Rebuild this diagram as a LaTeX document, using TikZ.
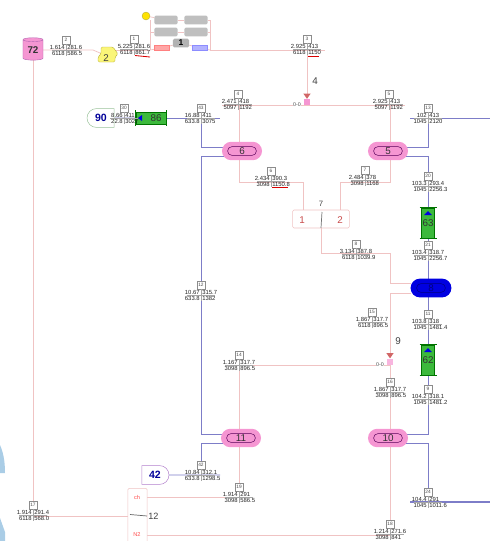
\documentclass[tikz,border=0pt]{standalone}
\usepackage{fontspec}
\setmainfont{Liberation Sans}
\usetikzlibrary{shapes,arrows.meta,positioning,calc,backgrounds}
\definecolor{qpink}{RGB}{245,150,210}
\definecolor{qline}{RGB}{240,195,195}
\definecolor{qblue}{RGB}{125,125,200}
\definecolor{qgreen}{RGB}{60,185,60}
\definecolor{qyellow}{RGB}{250,245,120}
\definecolor{qdeep}{RGB}{0,0,225}
\definecolor{qpatch}{RGB}{170,205,230}
\newcommand{\streamtag}[7]{%
  \node[tagbox] (tag#1) at (#2,#3-10) {#1};
  \node[tagval, anchor=east] (tag#1a) at (#2-1,#3-3) {#4};
  \node[tagval, anchor=west] (tag#1b) at (#2+1,#3-3) {#5};
  \node[tagval, anchor=east] (tag#1c) at (#2-1,#3+3) {#6};
  \node[tagval, anchor=west] (tag#1d) at (#2+1,#3+3) {#7};
  \draw[tagrule] (#2-14,#3) -- (#2+14,#3);
  \draw[tagrule] (tag#1) -- (#2,#3+6);
}
\begin{document}
\begin{tikzpicture}[
    x=0.025cm, y=-0.025cm,
    pinkline/.style={qline, line width=0.55pt},
    blueline/.style={qblue, line width=0.6pt},
    tagbox/.style={draw=black!45, line width=0.2pt, fill=white, inner sep=0.4pt,
                   minimum size=0.19cm, font=\fontsize{3.4}{4}\selectfont, text=black!70},
    tagval/.style={inner sep=0pt, font=\fontsize{4.2}{4}\selectfont, text=black!85},
    tagrule/.style={black!35, line width=0.2pt},
    vessel/.style={rounded rectangle, fill=qpink, minimum width=1cm, minimum height=0.46cm, inner sep=0pt},
    vesselin/.style={rounded rectangle, draw=violet!70!black, line width=0.35pt, minimum width=0.72cm,
                     minimum height=0.22cm, inner sep=0pt, font=\fontsize{7}{8}\selectfont, text=black!80},
    cooler/.style={fill=qgreen, draw=green!45!black, line width=0.3pt, inner sep=0pt,
                   font=\fontsize{7}{8}\selectfont, text=black!80},
    coolcap/.style={green!45!black, line width=0.8pt, shorten <=-1.2pt, shorten >=-1.2pt},
    tray/.style={rounded corners=1pt, fill=black!25, minimum width=0.58cm, minimum height=0.22cm, inner sep=0pt},
    feed/.style={rounded rectangle, fill=white, inner sep=0pt, minimum height=0.47cm, minimum width=0.68cm,
                 line width=0.35pt, font=\fontsize{7.5}{9}\selectfont\bfseries, text=blue!60!black},
    valvetop/.style={isosceles triangle, shape border rotate=-90, isosceles triangle apex angle=70,
                     fill=red!70!black!60, inner sep=0pt, minimum size=0.13cm},
    labeltxt/.style={inner sep=0pt, font=\fontsize{7}{8}\selectfont, text=black!75},
    zero/.style={inner sep=0pt, fill=white, font=\fontsize{3.8}{4}\selectfont, text=black!70}
]
\useasboundingbox (0,0) rectangle (490,541);
\clip (0,0) rectangle (490,541);

% Stray patches on the left edge
\fill[qpatch] (0,445) .. controls (3,452) and (5,460) .. (5,473) -- (0,473) -- cycle;
\fill[qpatch] (0,518) -- (5,532) -- (5,541) -- (0,541) -- cycle;

% Drum and compressor
\node[cylinder, shape border rotate=90, aspect=0.35, fill=qpink, draw=violet!60, line width=0.3pt,
      minimum width=0.5cm, minimum height=0.56cm, inner sep=0pt, font=\fontsize{7}{8}\selectfont\bfseries,
      text=black!80] (drum72) at (33,50) {72};
\draw[fill=qyellow, draw=yellow!70!black, line width=0.3pt, rounded corners=1pt]
    (101,47) -- (113,47) -- (118,54) -- (115,57) -- (115,62) -- (98,62) -- (98,57) -- (101,54) -- cycle;
\node[labeltxt] (comp2) at (106,58) {2};

% Reactor box
\node[circle, fill=yellow!85!orange, draw=yellow!60!black, line width=0.2pt, minimum size=0.2cm, inner sep=0pt]
    (sun) at (146,16) {};
\node[tray] (tray1) at (166,20) {};
\node[tray] (tray2) at (196,20) {};
\node[tray] (tray3) at (166,32) {};
\node[tray] (tray4) at (196,32) {};
\node[tray, minimum width=0.4cm, fill=black!30, font=\fontsize{6}{7}\selectfont\bfseries] (unit1) at (181,43) {1};
\node[fill=red!35, draw=red!50, line width=0.2pt, minimum width=0.38cm, minimum height=0.12cm, inner sep=0pt]
    (padr) at (162,48) {};
\node[fill=blue!30, draw=blue!45, line width=0.2pt, minimum width=0.38cm, minimum height=0.12cm, inner sep=0pt]
    (padb) at (200,48) {};

% Vessels
\node[vessel] (v6) at (242,151) {};
\node[vesselin] (v6in) at (242,151) {6};
\node[vessel] (v5) at (388,151) {};
\node[vesselin] (v5in) at (388,151) {5};
\node[vessel] (v11) at (241,438) {};
\node[vesselin] (v11in) at (241,438) {11};
\node[vessel] (v10) at (388,438) {};
\node[vesselin] (v10in) at (388,438) {10};
\node[rounded rectangle, fill=qdeep, minimum width=1.02cm, minimum height=0.47cm, inner sep=0pt] (v8) at (431,288) {};
\node[rounded rectangle, draw=blue!50!black, line width=0.35pt, minimum width=0.72cm, minimum height=0.22cm,
      inner sep=0pt, font=\fontsize{7}{8}\selectfont, text=blue!50!black] (v8in) at (431,288) {8};

% Coolers
\node[cooler, minimum width=0.75cm, minimum height=0.3cm] (c86) at (151,118) {\hspace{0.25cm}86};
\fill[qdeep] (138,118) -- (142,115) -- (142,121) -- cycle;
\draw[coolcap] (c86.north west) -- (c86.south west);
\draw[coolcap] (c86.north east) -- (c86.south east);
\node[cooler, minimum width=0.33cm, minimum height=0.75cm] (c63) at (428,223) {63};
\fill[qdeep] (428,211) -- (424,215) -- (432,215) -- cycle;
\draw[coolcap] (c63.north west) -- (c63.north east);
\draw[coolcap] (c63.south west) -- (c63.south east);
\node[cooler, minimum width=0.33cm, minimum height=0.75cm] (c62) at (428,360) {62};
\fill[qdeep] (428,348) -- (424,352) -- (432,352) -- cycle;
\draw[coolcap] (c62.north west) -- (c62.north east);
\draw[coolcap] (c62.south west) -- (c62.south east);

% Feeds
\node[feed, draw=green!40!black!40, rounded rectangle east arc=none] (feed90) at (101,118) {90};
\node[feed, draw=red!40!blue!50, rounded rectangle west arc=none] (feed42) at (155,475) {42};

% Valves
\node[fill=qpink, minimum size=0.17cm, inner sep=0pt] (valve4) at (307,102) {};
\node[valvetop] (valve4t) at (307,95.5) {};
\node[labeltxt] (lab4) at (315,81) {4};
\node[zero] (zero4) at (297,105) {0-0};
\node[fill=qpink!70, minimum size=0.17cm, inner sep=0pt] (valve9) at (390,362) {};
\node[valvetop] (valve9t) at (390,355) {};
\node[labeltxt] (lab9) at (398,341) {9};
\node[zero] (zero9) at (380,365) {0-0};

% Splitter and mixer boxes
\node[draw=qline, rounded corners=1pt, fill=white, minimum width=1.42cm, minimum height=0.45cm, inner sep=0pt] (box7) at (321,219) {};
\node[labeltxt, text=red!70!black!70] (box7a) at (302,220) {1};
\node[labeltxt, text=red!70!black!70] (box7b) at (340,220) {2};
\node[labeltxt, font=\fontsize{5.5}{6}\selectfont] (lab7) at (321,204) {7};
\draw[black!55, line width=0.5pt] (322,212) -- (321,228);
\node[draw=qline, rounded corners=1pt, fill=white, minimum width=0.48cm, minimum height=2cm, inner sep=0pt,
      anchor=north] (box12) at (137.5,488) {};
\node[inner sep=0pt, font=\fontsize{4}{5}\selectfont, text=red!70] (box12a) at (137,497) {ch};
\node[inner sep=0pt, font=\fontsize{4}{5}\selectfont, text=red!70] (box12b) at (137,535) {N2};
\node[labeltxt, font=\fontsize{6.5}{7}\selectfont, anchor=west] (lab12) at (148,516) {12};
\draw[black!60, line width=0.5pt] (130,514.5) -- (147,516);

% Stream tags
\streamtag{2}{66}{50}{1.614}{281.6}{6118}{586.5}
\streamtag{1}{134}{49}{5.225}{281.6}{6118}{861.7}
\streamtag{3}{307}{49}{2.925}{413}{6118}{1150}
\streamtag{4}{238}{104}{2.471}{418}{5097}{1192}
\streamtag{5}{389}{104}{2.925}{413}{5097}{1192}
\streamtag{30}{124}{118}{8.66}{411}{22.8}{3027}
\streamtag{43}{201}{118}{16.88}{411}{633.8}{3075}
\streamtag{13}{428}{118}{102}{413}{1045}{2120}
\streamtag{6}{271}{181}{2.434}{390.3}{3098}{1150.8}
\streamtag{7}{365}{180}{2.484}{378}{3098}{1168}
\streamtag{20}{428}{186}{103.3}{293.4}{1045}{2256.3}
\streamtag{21}{428}{255}{103.4}{318.7}{1045}{2256.7}
\streamtag{8}{356}{254}{3.134}{387.8}{6118}{1039.9}
\streamtag{12}{201}{295}{10.67}{315.7}{633.8}{1382}
\streamtag{15}{372}{322}{1.867}{317.7}{6118}{896.5}
\streamtag{14}{239}{365}{1.167}{317.7}{3098}{896.5}
\streamtag{11}{428}{324}{103.8}{318}{1045}{1481.4}
\streamtag{16}{390}{392}{1.867}{317.7}{3098}{896.5}
\streamtag{9}{428}{399}{104.2}{318.1}{1045}{1481.2}
\streamtag{42}{201}{475}{10.84}{312.1}{633.8}{1298.5}
\streamtag{19}{239}{497}{1.914}{291}{3098}{586.5}
\streamtag{17}{33}{515}{1.914}{291.4}{6118}{568.0}
\streamtag{24}{428}{502}{104.4}{291}{1045}{1011.6}
\streamtag{18}{390}{534}{1.214}{271.6}{3098}{841}

% Underlines
\draw[red!85!black, line width=0.6pt] (135,55.5) -- (150,57);
\draw[red!85!black, line width=0.6pt] (308,56) -- (319,56);
\draw[red!85!black, line width=0.6pt] (272,187) -- (288,187);

% Connectors
\begin{scope}[on background layer]
\coordinate (e3) at (325,50);
\coordinate (e4) at (222,105);
\coordinate (e5) at (405,105);
\coordinate (j12) at (33,516);
\coordinate (o13) at (490,118);
\coordinate (o24) at (490,502);
\draw[pinkline] (drum72) -- (93,50) -- (comp2.north west);
\draw[pinkline] (113,50) -- (150,50);
\draw[pinkline] (sun) -- (tray1);
\draw[pinkline] (tray1) -- (tray2) -- (210,20) -- (210,50) -- (e3);
\draw[pinkline] (150,20) -- (150,50);
\draw[pinkline] (150,32) -- (tray3) -- (tray4) -- (210,32);
\draw[pinkline] (150,50) -- (padr) -- (unit1) -- (padb) -- (210,50);
\draw[pinkline] (307,50) -- (valve4);
\draw[pinkline] (e4) -- (e5);
\draw[pinkline] (239,105) -- (239,142);
\draw[pinkline] (390,105) -- (390,142);
\draw[pinkline] (239,160) |- (303,182) -- (303,210);
\draw[pinkline] (390,160) |- (340,182) -- (340,210);
\draw[pinkline] (box7.south) |- (390,253) |- (411,283);
\draw[pinkline] (411,293) -| (valve9);
\draw[pinkline] (valve9) |- (239,365);
\draw[pinkline] (239,365) -- (239,429);
\draw[pinkline] (valve9) -- (390,429);
\draw[pinkline] (239,447) |- (box12.east |- box12a);
\draw[pinkline] (390,447) |- (box12.east |- box12b);
\draw[pinkline] (drum72) -- (j12) -- (box12.west |- j12);
\draw[blueline] (feed90) -- (c86);
\draw[blueline] (c86) -- (220,118);
\draw[blueline] (201,118) |- (v6in.west |- 0,147);
\draw[blueline] (410,118) -- (o13);
\draw[blueline] (428,118) |- (v5in.east |- 0,147);
\draw[blueline] (v6in.west |- 0,156) -| (201,434) -- (v11in.west |- 0,434);
\draw[blueline] (v11in.west |- 0,443) -| (201,475);
\draw[blueline] (feed42) -- (220,475);
\draw[blueline] (v5in.east |- 0,156) -| (c63);
\draw[blueline] (c63) -- (428,280);
\draw[blueline] (428,296) -- (c62);
\draw[blueline] (c62) |- (v10in.east |- 0,434);
\draw[blueline] (v10in.east |- 0,443) -| (428,502);
\draw[blueline, line width=0.8pt] (410,502) -- (o24);
\end{scope}
\end{tikzpicture}
\end{document}
